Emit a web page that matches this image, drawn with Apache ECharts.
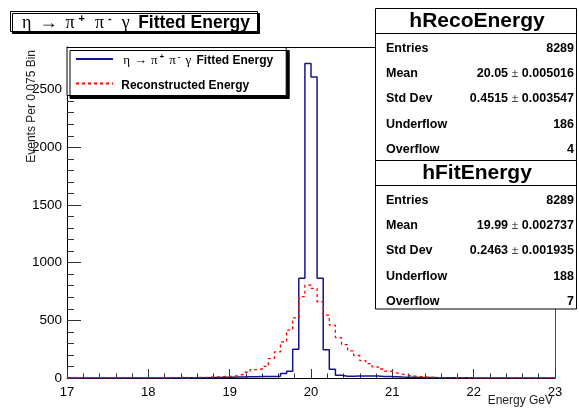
<!DOCTYPE html>
<html>
<head>
<meta charset="utf-8">
<script src="https://cdn.jsdelivr.net/npm/echarts@6/dist/echarts.min.js"></script>
<style>
html,body{margin:0;padding:0;background:#fff;}
#chart{width:579px;height:408px;}
</style>
</head>
<body>
<div id="chart"></div>
<script>
// Histogram binning (80 bins of 0.075 GeV from 17 to 23)
const xMin = 17;
const xMax = 23;
const binWidth = 0.075;
const xTicks = [17, 18, 19, 20, 21, 22, 23];
const yTicks = [0, 500, 1000, 1500, 2000, 2500];

// hFitEnergy counts per bin (blue, solid)
const fitCounts = [
  0,0,1,0,0,1,0,0,1,0,
  1,0,1,1,0,1,1,2,1,2,
  2,3,3,4,5,6,6,8,8,10,
  10,12,12,14,16,40,58,249,864,2728,
  2609,864,246,75,23,15,16,17,18,18,
  17,14,12,10,8,7,6,5,4,4,
  3,3,2,2,2,2,1,1,1,1,
  1,1,0,1,0,0,1,0,0,0
];
// hRecoEnergy counts per bin (red, dashed)
const recoCounts = [
  2,2,1,2,3,2,2,3,2,3,
  3,3,2,4,3,4,4,3,5,4,
  4,5,6,8,10,13,16,20,32,50,
  72,78,100,168,226,313,415,522,705,806,
  777,661,545,458,350,290,235,195,150,125,
  96,78,60,45,33,24,17,12,8,5,
  4,3,3,2,3,2,2,2,1,2,
  2,1,2,1,1,2,1,1,1,1
];

const fitLabel = 'η → π⁺ π⁻ γ Fitted Energy';
const recoLabel = 'Reconstructed Energy';
const greekParts = ['η', '→', 'π', '+', 'π', '-', 'γ'];
const fittedWords = 'Fitted Energy';
const yTitle = 'Events Per 0.075 Bin';
const xTitle = 'Energy GeV';

const statsReco = { name: 'hRecoEnergy', rows: [
  ['Entries', '8289', null],
  ['Mean', '20.05', '0.005016'],
  ['Std Dev', '0.4515', '0.003547'],
  ['Underflow', '186', null],
  ['Overflow', '4', null]
]};
const statsFit = { name: 'hFitEnergy', rows: [
  ['Entries', '8289', null],
  ['Mean', '19.99', '0.002737'],
  ['Std Dev', '0.2463', '0.001935'],
  ['Underflow', '188', null],
  ['Overflow', '7', null]
]};

function steps(counts) {
  const d = counts.map((v, i) => [xMin + i * binWidth, v]);
  d.push([xMax, counts[counts.length - 1]]);
  return d;
}

const SANS = 'Liberation Sans, Arial, Helvetica, sans-serif';
const SERIF = 'Liberation Serif, DejaVu Serif, serif';

// greek formula as rich text: g = symbol, s = superscript
function greekRich() {
  const p = greekParts;
  return '{g|' + p[0] + '}{g|' + p[1] + '}{g|' + p[2] + '}{s|' + p[3] + '}{g|' +
    p[4] + '}{s|' + p[5] + '}{g|' + p[6] + '}';
}
function greekStyles(size, bold, pad) {
  const lh = Math.round(size * 1.25);
  return {
    g: { fontFamily: SERIF, fontSize: size, fontWeight: 'normal', color: '#000',
         verticalAlign: 'bottom', lineHeight: lh, padding: [0, pad, 0, pad] },
    s: { fontFamily: SANS, fontSize: Math.round(size * 0.62), fontWeight: 'bold', color: '#000',
         verticalAlign: 'bottom', lineHeight: Math.round(size * 0.62), padding: [0, pad * 1.5, Math.round(size * 0.45), 0] },
    sp: { fontFamily: SERIF, fontSize: size, fontWeight: 'normal', color: '#000', lineHeight: lh },
    b: { fontFamily: SANS, fontSize: bold, fontWeight: 'bold', color: '#000', lineHeight: lh, verticalAlign: 'bottom' }
  };
}

function statsBox(st, top, h) {
  const L = 375.5, W = 201;
  const els = [];
  els.push({ type: 'rect', z: 100, shape: { x: L, y: top, width: W, height: h },
    style: { fill: '#fff', stroke: '#000', lineWidth: 1 } });
  els.push({ type: 'line', z: 101, shape: { x1: L, y1: top + 25, x2: L + W, y2: top + 25 },
    style: { stroke: '#000', lineWidth: 1 } });
  els.push({ type: 'text', z: 101, style: { x: L + W / 2 + 1, y: top + 13, text: st.name,
    align: 'center', verticalAlign: 'middle', font: 'bold 21px ' + SANS, fill: '#000' } });
  st.rows.forEach((r, i) => {
    const y = top + 40 + i * 25.2;
    els.push({ type: 'text', z: 101, style: { x: 386, y: y, text: r[0], align: 'left',
      verticalAlign: 'middle', font: 'bold 12.5px ' + SANS, fill: '#000' } });
    const txt = r[2] ? '{v|' + r[1] + ' }{pm|±}{v| ' + r[2] + '}' : '{v|' + r[1] + '}';
    els.push({ type: 'text', z: 101, style: { x: 574, y: y, text: txt, align: 'right',
      verticalAlign: 'middle', fill: '#000',
      rich: { v: { font: 'bold 12.5px ' + SANS, fill: '#000' },
              pm: { font: '12.5px ' + SERIF, fill: '#000' } } } });
  });
  return els;
}

const chart = echarts.init(document.getElementById('chart'), null, { renderer: 'canvas' });

const option = {
  animation: false,
  backgroundColor: '#fff',
  grid: { left: 67, right: 24, top: 47, bottom: 30, containLabel: false },
  title: {
    text: greekRich() + '{sp| }{b|' + fittedWords + '}',
    left: 10, top: 9,
    padding: [0, 8, 0, 8],
    backgroundColor: '#fff', borderColor: '#000', borderWidth: 1,
    shadowColor: '#000', shadowOffsetX: 2, shadowOffsetY: 2, shadowBlur: 0,
    textStyle: { fontWeight: 'normal', rich: greekStyles(18, 17.5, 4) }
  },
  legend: {
    left: 67, top: 47.5, orient: 'vertical',
    itemWidth: 37, itemHeight: 14, itemGap: 10,
    padding: [5, 13, 4, 8],
    backgroundColor: '#fff', borderColor: '#000', borderWidth: 1,
    shadowColor: '#000', shadowOffsetX: 3, shadowOffsetY: 3, shadowBlur: 0,
    itemStyle: { opacity: 0 },
    data: [fitLabel, recoLabel],
    formatter: function (name) {
      if (name === fitLabel) return '{sp| }' + greekRich() + '{sp| }{b|' + fittedWords + '}';
      return '{sp| }{b|' + name + '}';
    },
    textStyle: { fontWeight: 'normal', rich: greekStyles(13, 12, 2) }
  },
  xAxis: [{
    type: 'value', min: xMin, max: xMax, interval: 1, position: 'bottom',
    axisLine: { show: true, onZero: false, lineStyle: { color: '#000', width: 1 } },
    axisTick: { show: true, inside: true, length: 9, lineStyle: { color: '#333' } },
    minorTick: { show: true, splitNumber: 5, length: 4.5, lineStyle: { color: '#333' } },
    axisLabel: { fontSize: 13, fontFamily: SANS, color: '#000', margin: 8,
      formatter: v => xTicks.includes(v) ? String(v) : '' },
    splitLine: { show: false }
  }, {
    type: 'value', min: xMin, max: xMax, position: 'top',
    axisLine: { show: true, onZero: false, lineStyle: { color: '#000', width: 1 } },
    axisTick: { show: false }, axisLabel: { show: false }, splitLine: { show: false }
  }],
  yAxis: [{
    type: 'value', min: 0, max: 2870, interval: 500,
    axisLine: { show: true, onZero: false, lineStyle: { color: '#000', width: 1 } },
    axisTick: { show: true, inside: true, length: 14, lineStyle: { color: '#333' } },
    minorTick: { show: true, splitNumber: 5, length: 7, lineStyle: { color: '#333' } },
    axisLabel: { fontSize: 13.5, fontFamily: SANS, color: '#000', margin: 5, showMaxLabel: false,
      formatter: v => yTicks.includes(v) ? String(v) : '' },
    splitLine: { show: false }
  }, {
    type: 'value', min: 0, max: 2870, position: 'right',
    axisLine: { show: true, onZero: false, lineStyle: { color: '#ff0000', width: 1 } },
    axisTick: { show: false }, axisLabel: { show: false }, splitLine: { show: false }
  }],
  series: [{
    name: fitLabel, type: 'line', step: 'end', data: steps(fitCounts),
    symbol: 'none', showSymbol: false, z: 2,
    lineStyle: { color: '#14148f', width: 1.5 },
    itemStyle: { color: '#14148f' }
  }, {
    name: recoLabel, type: 'line', step: 'end', data: steps(recoCounts),
    symbol: 'none', showSymbol: false, z: 3,
    lineStyle: { color: '#ff0000', width: 1.3, type: [3, 3] },
    itemStyle: { color: '#ff0000' }
  }],
  graphic: [].concat(
    statsBox(statsReco, 8.5, 152),
    statsBox(statsFit, 160.5, 148.5),
    [{
      type: 'text', z: 100, x: 32, y: 50, rotation: Math.PI / 2,
      style: { x: 0, y: 0, text: yTitle, align: 'right', verticalAlign: 'middle',
        font: '12px ' + SANS, fill: '#222' }
    }, {
      type: 'text', z: 100,
      style: { x: 553, y: 401, text: xTitle, align: 'right', verticalAlign: 'middle',
        font: '12px ' + SANS, fill: '#222' }
    }]
  )
};
chart.setOption(option);
</script>
</body>
</html>
